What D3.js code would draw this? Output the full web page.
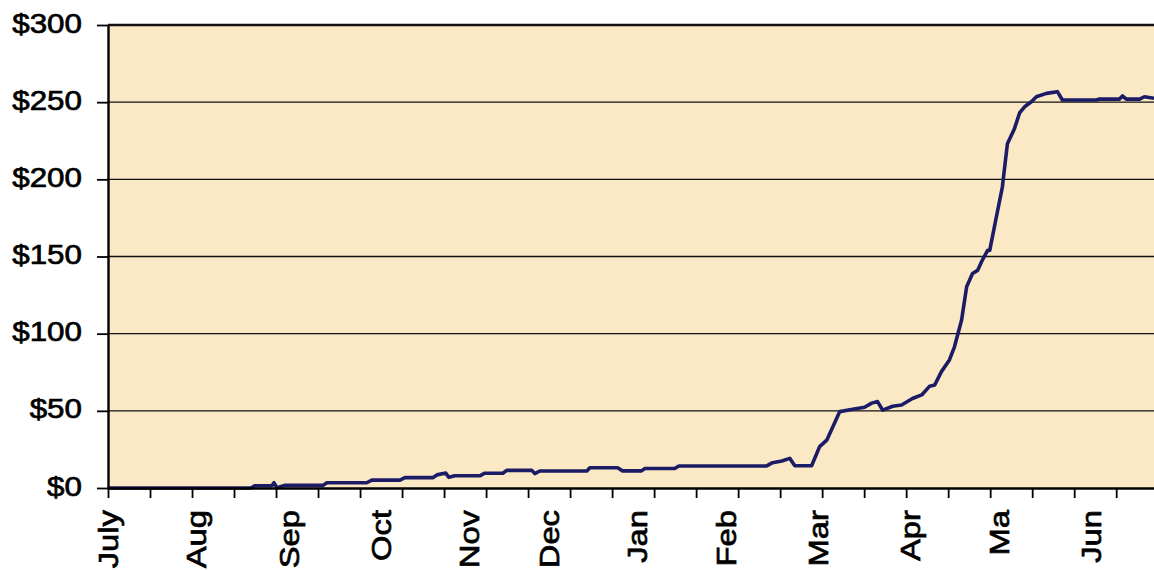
<!DOCTYPE html>
<html>
<head>
<meta charset="utf-8">
<script src="https://cdn.jsdelivr.net/npm/d3@7"></script>
<style>
  body { margin: 0; background: #fff; }
  svg { display: block; }
</style>
</head>
<body>
<div class="main"><svg></svg></div>
<script>
// trading-day index and cumulative value ($)
const days = [0, 34, 35, 39, 39.5, 40.2, 42, 51.2, 52.1, 61.6, 62.8, 69.5, 70.7, 77.3, 78.3, 80.4, 81.1, 82.6,
  88.5, 89.7, 94, 94.9, 100.9, 101.6, 102.8, 114, 114.7, 121.3, 122.5, 127, 127.8, 134.9, 135.9, 156.8,
  158.2, 160.4, 162.3, 163.5, 167.5, 169.4, 171.1, 174.2, 177.3, 180.1, 181.8, 183.2, 184.4, 186.8, 188.9,
  191.5, 193.7, 195.6, 196.8, 198.4, 200.3, 201.5, 203.2, 204.4, 205.8, 207, 208.2, 209.4, 209.9, 211.5,
  212.9, 214.1, 215.8, 217, 218.2, 219.8, 221, 223.4, 226, 227.2, 235.3, 236, 240.8, 241.5, 242.4, 245.6,
  246.7, 249];
const values = [0, 0, 1.5, 1.5, 3.4, 0.2, 1.7, 1.7, 3.4, 3.4, 5.1, 5.1, 6.7, 6.7, 8.5, 9.7, 6.9, 7.9,
  7.9, 9.6, 9.6, 11.4, 11.4, 9.3, 11, 11, 13.1, 13.1, 11.1, 11.1, 12.6, 12.6, 14.3, 14.3,
  16.4, 17.5, 19.2, 14.4, 14.4, 26.8, 31, 49.5, 51, 52.3, 55, 56, 50.5, 53, 53.8,
  58, 60.3, 66, 66.7, 75.4, 83, 91.5, 108.9, 130.4, 139, 141, 148, 154, 154, 176,
  195, 223, 233, 243, 247, 250.3, 253.5, 255.7, 256.8, 251.4, 251.4, 252, 252, 254, 252, 252,
  253.5, 252.5];

const months = ['July', 'Aug', 'Sep', 'Oct', 'Nov', 'Dec', 'Jan', 'Feb', 'Mar', 'Apr', 'Ma', 'Jun'];
const monthDays = [0, 21, 43, 65, 86, 105, 126, 147, 169, 191, 212, 234];
const yTicks = [0, 50, 100, 150, 200, 250, 300];
const xTicks = d3.range(0, 241, 10);

const svgWidth = 1154, svgHeight = 570;
const plotLeft = 108, plotTop = 25, plotBottom = 488, plotRight = 1154;
const font = '"Liberation Sans", Arial, sans-serif';

const svg = d3.select('.main')
  .select('svg')
  .attr('width', svgWidth)
  .attr('height', svgHeight);

const x = d3.scaleLinear().domain([0, 249]).range([plotLeft, plotRight]);
const y = d3.scaleLinear().domain([0, 300]).range([plotBottom, plotTop]);

// plot background
svg.append('rect')
  .attr('x', plotLeft)
  .attr('y', plotTop)
  .attr('width', plotRight - plotLeft)
  .attr('height', plotBottom - plotTop)
  .style('fill', '#fbe9c6');

// gridlines
svg.selectAll('line.grid')
  .data(yTicks.filter(d => d > 0))
  .enter()
  .append('line')
  .attr('class', 'grid')
  .attr('x1', plotLeft)
  .attr('x2', plotRight)
  .attr('y1', d => y(d))
  .attr('y2', d => y(d))
  .style('stroke', '#111')
  .style('stroke-width', d => d === 300 ? 2.4 : 1.3);

// line
svg.append('clipPath').attr('id', 'clip')
  .append('rect')
  .attr('x', plotLeft).attr('y', plotTop - 5)
  .attr('width', plotRight - plotLeft).attr('height', plotBottom - plotTop + 10);

const line = d3.line()
  .x(d => x(d[0]))
  .y(d => y(d[1]));

svg.append('path')
  .datum(d3.zip(days, values))
  .attr('d', line)
  .attr('clip-path', 'url(#clip)')
  .style('fill', 'none')
  .style('stroke', '#1c1c66')
  .style('stroke-width', 3.6)
  .style('stroke-linejoin', 'round');

// y axis
const yAxis = svg.append('g')
  .attr('transform', `translate(${plotLeft},0)`)
  .call(d3.axisLeft(y).tickValues(yTicks).tickSize(11).tickSizeOuter(0).tickFormat(''));
yAxis.select('.domain').style('stroke', '#000').style('stroke-width', 2.4);
yAxis.selectAll('.tick line').style('stroke', '#000').style('stroke-width', 1.8);

svg.selectAll('text.ylab')
  .data(yTicks)
  .enter()
  .append('text')
  .attr('class', 'ylab')
  .attr('transform', d => `translate(82,${y(d)}) scale(1.12,1)`)
  .attr('dy', '0.27em')
  .attr('text-anchor', 'end')
  .style('font-family', font)
  .style('font-size', '28px')
  .style('fill', '#000')
  .style('stroke', '#000')
  .style('stroke-width', 0.7)
  .text(d => '$' + d);

// x axis
const xAxis = svg.append('g')
  .attr('transform', `translate(0,${plotBottom})`)
  .call(d3.axisBottom(x).tickValues(xTicks).tickSize(10).tickSizeOuter(0).tickFormat(''));
xAxis.select('.domain').style('stroke', '#000').style('stroke-width', 2.6);
xAxis.selectAll('.tick line').style('stroke', '#000').style('stroke-width', 1.8);

svg.selectAll('text.xlab')
  .data(months)
  .enter()
  .append('text')
  .attr('class', 'xlab')
  .attr('transform', (d, i) => `translate(${x(monthDays[i])},510) rotate(-90) scale(1.17,1)`)
  .attr('dy', '0.36em')
  .attr('text-anchor', 'end')
  .style('font-family', font)
  .style('font-size', '28px')
  .style('fill', '#000')
  .style('stroke', '#000')
  .style('stroke-width', 0.7)
  .text(d => d);
</script>
</body>
</html>
